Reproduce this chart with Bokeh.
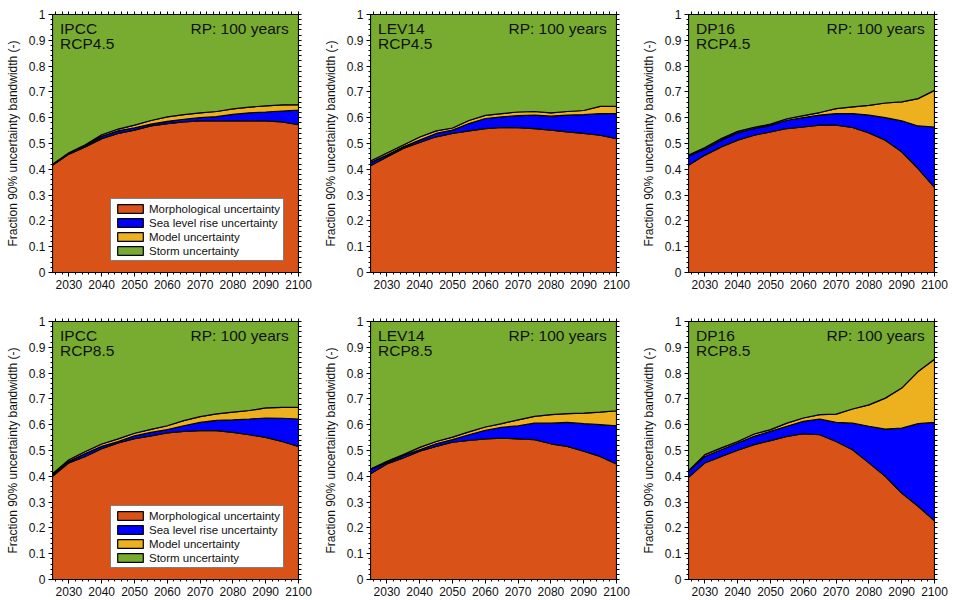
from bokeh.plotting import figure
from bokeh.layouts import column, row
from bokeh.models import (FixedTicker, LinearAxis, Range1d, Legend, LegendItem,
                          CustomJSTickFormatter, Label)
from bokeh.embed import file_html
from bokeh.resources import INLINE

# Years (5-year sampling of the annual series)
years = [2025, 2030, 2035, 2040, 2045, 2050, 2055, 2060, 2065, 2070,
         2075, 2080, 2085, 2090, 2095, 2100]

# Fraction of the 90% uncertainty bandwidth per source (storm = remainder to 1)
ipcc45_morph = [0.416, 0.459, 0.487, 0.519, 0.539, 0.552, 0.568, 0.577, 0.584, 0.588, 0.588, 0.588, 0.588, 0.588, 0.584, 0.573]
ipcc45_slr   = [0.002, 0.001, 0.003, 0.009, 0.010, 0.009, 0.007, 0.009, 0.010, 0.012, 0.016, 0.025, 0.031, 0.034, 0.042, 0.056]
ipcc45_model = [0.002, 0.004, 0.005, 0.006, 0.007, 0.010, 0.014, 0.017, 0.018, 0.019, 0.020, 0.021, 0.022, 0.024, 0.024, 0.022]

lev45_morph = [0.414, 0.448, 0.481, 0.504, 0.526, 0.539, 0.549, 0.558, 0.562, 0.561, 0.558, 0.552, 0.545, 0.539, 0.532, 0.519]
lev45_slr   = [0.012, 0.007, 0.006, 0.009, 0.013, 0.013, 0.028, 0.039, 0.041, 0.047, 0.052, 0.054, 0.065, 0.073, 0.084, 0.097]
lev45_model = [0.006, 0.008, 0.007, 0.012, 0.010, 0.008, 0.012, 0.012, 0.013, 0.014, 0.014, 0.013, 0.014, 0.016, 0.028, 0.028]

dp45_morph = [0.416, 0.455, 0.487, 0.513, 0.532, 0.545, 0.558, 0.564, 0.571, 0.571, 0.562, 0.541, 0.513, 0.468, 0.403, 0.330]
dp45_slr   = [0.035, 0.023, 0.026, 0.028, 0.026, 0.025, 0.032, 0.036, 0.039, 0.045, 0.054, 0.069, 0.087, 0.120, 0.165, 0.234]
dp45_model = [0.004, 0.006, 0.006, 0.006, 0.005, 0.005, 0.006, 0.008, 0.010, 0.019, 0.026, 0.038, 0.057, 0.073, 0.106, 0.142]

ipcc85_morph = [0.400, 0.452, 0.477, 0.507, 0.529, 0.546, 0.557, 0.568, 0.574, 0.577, 0.577, 0.570, 0.561, 0.551, 0.535, 0.516]
ipcc85_slr   = [0.006, 0.006, 0.011, 0.009, 0.006, 0.011, 0.013, 0.013, 0.022, 0.032, 0.040, 0.049, 0.061, 0.075, 0.090, 0.106]
ipcc85_model = [0.004, 0.006, 0.008, 0.009, 0.010, 0.010, 0.012, 0.015, 0.020, 0.022, 0.025, 0.030, 0.033, 0.039, 0.042, 0.045]

lev85_morph = [0.410, 0.448, 0.471, 0.497, 0.516, 0.532, 0.539, 0.545, 0.548, 0.545, 0.542, 0.526, 0.516, 0.497, 0.477, 0.448]
lev85_slr   = [0.016, 0.006, 0.009, 0.006, 0.010, 0.010, 0.022, 0.033, 0.042, 0.051, 0.064, 0.080, 0.093, 0.107, 0.123, 0.148]
lev85_model = [0.002, 0.004, 0.004, 0.009, 0.009, 0.010, 0.011, 0.013, 0.014, 0.023, 0.026, 0.033, 0.034, 0.041, 0.049, 0.058]

dp85_morph = [0.396, 0.452, 0.477, 0.501, 0.523, 0.538, 0.555, 0.565, 0.561, 0.535, 0.503, 0.452, 0.400, 0.335, 0.284, 0.228]
dp85_slr   = [0.023, 0.025, 0.026, 0.028, 0.032, 0.036, 0.039, 0.048, 0.061, 0.074, 0.103, 0.142, 0.183, 0.252, 0.320, 0.381]
dp85_model = [0.003, 0.007, 0.007, 0.006, 0.009, 0.007, 0.012, 0.013, 0.017, 0.032, 0.055, 0.083, 0.120, 0.155, 0.202, 0.245]

sources = ["Morphological uncertainty", "Sea level rise uncertainty",
           "Model uncertainty", "Storm uncertainty"]
colors = ["#D95319", "#0000FF", "#EDB120", "#77AC30"]

y_ticks = [round(i * 0.1, 1) for i in range(11)]
y_minor = [round(i * 0.02, 2) for i in range(51)]
x_ticks = [2030, 2040, 2050, 2060, 2070, 2080, 2090, 2100]
x_minor = list(range(2026, 2101, 2))

FONT = "Liberation Sans"


def style_ticks(ax):
    ax.axis_line_color = "black"
    ax.major_tick_line_color = "black"
    ax.minor_tick_line_color = "black"
    ax.major_tick_in = 0
    ax.major_tick_out = 4
    ax.minor_tick_in = 0
    ax.minor_tick_out = 2


def panel(model_name, scenario, morph, slr, model, legend, top_row):
    p = figure(frame_width=246, frame_height=258,
               x_range=Range1d(2025, 2100), y_range=Range1d(0, 1),
               output_backend="svg", toolbar_location=None,
               min_border_left=52, min_border_right=20,
               min_border_top=14 if top_row else 21,
               min_border_bottom=28 if top_row else 21)
    p.background_fill_color = "white"
    p.border_fill_color = "white"
    p.outline_line_color = "black"
    p.outline_line_width = 1
    p.xgrid.visible = False
    p.ygrid.visible = False

    # stacked boundaries
    b0 = [0.0] * len(years)
    b1 = list(morph)
    b2 = [a + b for a, b in zip(b1, slr)]
    b3 = [a + b for a, b in zip(b2, model)]
    b4 = [1.0] * len(years)
    bounds = [b0, b1, b2, b3, b4]

    renderers = []
    for i in range(4):
        lo, hi = bounds[i], bounds[i + 1]
        xs = list(years) + list(years[::-1])
        ys = list(hi) + list(lo[::-1])
        r = p.patch(xs, ys, fill_color=colors[i], line_color="black", line_width=1.2)
        renderers.append(r)

    # axes styling
    ax_y = p.yaxis[0]
    ax_y.ticker = FixedTicker(ticks=y_ticks, minor_ticks=y_minor)
    ax_y.formatter = CustomJSTickFormatter(code="return tick.toFixed(1).replace(/\\.0$/, '');")
    ax_y.axis_label = "Fraction 90% uncertainty bandwidth (-)"
    ax_y.axis_label_text_font = FONT
    ax_y.axis_label_text_font_size = "12px"
    ax_y.axis_label_text_font_style = "normal"
    ax_y.axis_label_text_color = "#111111"
    ax_y.axis_label_standoff = 6

    ax_x = p.xaxis[0]
    ax_x.ticker = FixedTicker(ticks=x_ticks, minor_ticks=x_minor)

    for ax in (ax_x, ax_y):
        ax.major_label_text_font = FONT
        ax.major_label_text_font_size = "12px"
        ax.major_label_text_color = "#111111"
        ax.major_label_standoff = 3
        style_ticks(ax)

    # unlabelled tick marks along the right and top edges (minor ticks only)
    ax_r = LinearAxis(ticker=FixedTicker(ticks=[], minor_ticks=y_minor))
    ax_t = LinearAxis(ticker=FixedTicker(ticks=[], minor_ticks=x_minor))
    for ax in (ax_r, ax_t):
        style_ticks(ax)
        ax.minor_tick_out = 3
        ax.major_label_standoff = 0
    p.add_layout(ax_r, "right")
    p.add_layout(ax_t, "above")

    # panel annotations
    for txt, yy in ((model_name, 0.978), (scenario, 0.92)):
        p.add_layout(Label(x=2027.3, y=yy, text=txt, text_font=FONT,
                           text_font_size="15.5px", text_baseline="top",
                           text_color="#111111"))
    p.add_layout(Label(x=2097.0, y=0.978, text="RP: 100 years", text_font=FONT,
                       text_font_size="15.5px", text_baseline="top", text_align="right",
                       text_color="#111111"))

    if legend:
        items = [LegendItem(label=sources[i], renderers=[renderers[i]]) for i in range(4)]
        leg = Legend(items=items, location=(58, 11),
                     glyph_width=32, glyph_height=11, label_height=13,
                     label_standoff=3, spacing=1, padding=3, margin=0,
                     label_text_font=FONT, label_text_font_size="11.5px",
                     label_text_color="#111111",
                     border_line_color="black", border_line_width=1,
                     background_fill_color="white", background_fill_alpha=1)
        p.add_layout(leg)
    return p


p1 = panel("IPCC", "RCP4.5", ipcc45_morph, ipcc45_slr, ipcc45_model, True, True)
p2 = panel("LEV14", "RCP4.5", lev45_morph, lev45_slr, lev45_model, False, True)
p3 = panel("DP16", "RCP4.5", dp45_morph, dp45_slr, dp45_model, False, True)
p4 = panel("IPCC", "RCP8.5", ipcc85_morph, ipcc85_slr, ipcc85_model, True, False)
p5 = panel("LEV14", "RCP8.5", lev85_morph, lev85_slr, lev85_model, False, False)
p6 = panel("DP16", "RCP8.5", dp85_morph, dp85_slr, dp85_model, False, False)

layout = column(row(p1, p2, p3), row(p4, p5, p6))

open("out.html", "w").write(file_html(layout, INLINE))
